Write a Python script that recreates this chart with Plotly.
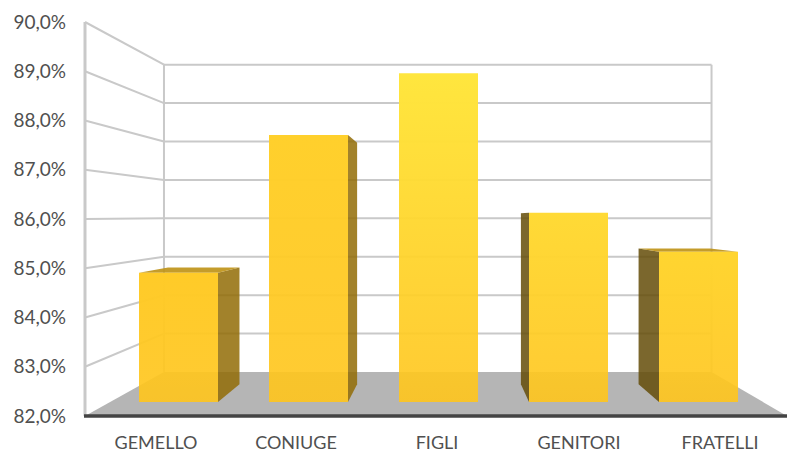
import plotly.graph_objects as go

categories = ["GEMELLO", "CONIUGE", "FIGLI", "GENITORI", "FRATELLI"]
values = [84.82, 87.83, 89.18, 86.13, 85.28]
top_colors = ["#FFCB28", "#FFD02C", "#FFE63E", "#FFDA36", "#FFD530"]

W, H = 787, 453
V_MIN, V_MAX = 82, 90
V_PAD = 0.2
AX_TOP, AX_BOTTOM = 22, 416
PX_PER_UNIT = (AX_BOTTOM - AX_TOP) / (V_MAX - V_MIN)
VP_X = 444
VP_V = 86.06
K_BACK, K_BAR_FRONT, BAR_DEPTH = 0.78, 0.93, 0.095
K_BAR_BACK = K_BAR_FRONT * (1 - BAR_DEPTH)
BAR_START, BAR_STEP, BAR_WIDTH = 139, 130, 79
LEFT_X, RIGHT_X = 85, 787
LABEL_X = [156, 296, 437, 579, 720]


def px(x, k):
    return VP_X + k * (x - VP_X)


def pv(v, k):
    return VP_V + k * (v - VP_V)


def bar_x(screen_x):
    return VP_X + (screen_x - VP_X) / K_BAR_FRONT


def poly(points, color, line="rgba(0,0,0,0)", width=0, **kw):
    return go.Scatter(
        x=[p[0] for p in points] + [points[0][0]],
        y=[p[1] for p in points] + [points[0][1]],
        mode="lines", fill="toself", fillcolor=color,
        line=dict(color=line, width=width), hoverinfo="skip", **kw)


def seg(x0, y0, x1, y1, color="#C9C9C9", width=2):
    return go.Scatter(x=[x0, x1], y=[y0, y1], mode="lines",
                      line=dict(color=color, width=width), hoverinfo="skip")


fig = go.Figure()

# floor
fig.add_trace(poly([(px(LEFT_X, 1), V_MIN), (px(RIGHT_X, 1), V_MIN),
                    (px(RIGHT_X, K_BACK), pv(V_MIN, K_BACK)),
                    (px(LEFT_X, K_BACK), pv(V_MIN, K_BACK))], "#B5B5B5"))

# walls
for v in range(V_MIN + 1, V_MAX + 1):
    fig.add_trace(seg(px(LEFT_X, 1), v, px(LEFT_X, K_BACK), pv(v, K_BACK)))
    fig.add_trace(seg(px(LEFT_X, K_BACK), pv(v, K_BACK), px(RIGHT_X, K_BACK), pv(v, K_BACK)))
fig.add_trace(seg(px(LEFT_X, K_BACK), pv(V_MIN, K_BACK), px(LEFT_X, K_BACK), pv(V_MAX, K_BACK)))
fig.add_trace(seg(px(RIGHT_X, K_BACK), pv(V_MIN, K_BACK), px(RIGHT_X, K_BACK), pv(V_MAX, K_BACK)))
fig.add_trace(seg(px(LEFT_X, 1), V_MIN, px(LEFT_X, 1), V_MAX, width=3))

# bars
for i, (value, top) in enumerate(zip(values, top_colors)):
    xl = bar_x(BAR_START + i * BAR_STEP)
    xr = bar_x(BAR_START + i * BAR_STEP + BAR_WIDTH)
    f, b = K_BAR_FRONT, K_BAR_BACK
    if px(xr, f) < VP_X:
        fig.add_trace(poly([(px(xr, f), pv(V_MIN, f)), (px(xr, b), pv(V_MIN, b)),
                            (px(xr, b), pv(value, b)), (px(xr, f), pv(value, f))],
                           "rgba(146,108,6,0.85)"))
    if px(xl, f) > VP_X:
        fig.add_trace(poly([(px(xl, f), pv(V_MIN, f)), (px(xl, b), pv(V_MIN, b)),
                            (px(xl, b), pv(value, b)), (px(xl, f), pv(value, f))],
                           "rgba(100,76,8,0.85)"))
    if value < VP_V:
        fig.add_trace(poly([(px(xl, f), pv(value, f)), (px(xr, f), pv(value, f)),
                            (px(xr, b), pv(value, b)), (px(xl, b), pv(value, b))],
                           "rgba(190,145,20,0.9)"))
    front = poly([(px(xl, f), pv(V_MIN, f)), (px(xr, f), pv(V_MIN, f)),
                  (px(xr, f), pv(value, f)), (px(xl, f), pv(value, f))],
                 "#FFC822")
    front.update(fillgradient=dict(
        type="vertical",
        start=pv(V_MIN, f), stop=pv(value, f),
        colorscale=[[0, "rgba(255,197,28,0.9)"], [1, top]]))
    fig.add_trace(front)

# base line
fig.add_trace(seg(px(LEFT_X, 1) - 1, V_MIN, RIGHT_X, V_MIN, color="#444444", width=3.5))

fig.update_layout(
    width=W, height=H, autosize=False,
    margin=dict(l=0, r=0, t=0, b=0, pad=0, autoexpand=False),
    paper_bgcolor="white", plot_bgcolor="white",
    showlegend=False, separators=",.",
    font=dict(family="Lato", color="#505050"),
    xaxis=dict(range=[0, W], domain=[0, 1], showgrid=False, zeroline=False, showline=False,
               automargin=False,
               tickmode="array", tickvals=LABEL_X, ticktext=categories,
               ticks="", tickfont=dict(size=18), ticklabelstandoff=4, fixedrange=True),
    yaxis=dict(range=[V_MIN - V_PAD, V_MAX + V_PAD],
               domain=[(H - AX_BOTTOM - V_PAD * PX_PER_UNIT) / H,
                       (H - AX_TOP + V_PAD * PX_PER_UNIT) / H],
               anchor="free", position=LEFT_X / W, automargin=False,
               showgrid=False, zeroline=False, showline=False,
               dtick=1, tick0=V_MIN, tickformat=".1f", ticksuffix="%",
               ticks="", tickfont=dict(size=19), ticklabelstandoff=19, fixedrange=True),
)

fig.write_html("out.html", config=dict(displayModeBar=False),
               default_width=f"{W}px", default_height=f"{H}px",
               post_script="document.body.style.margin='0';document.body.style.overflow='hidden';")
